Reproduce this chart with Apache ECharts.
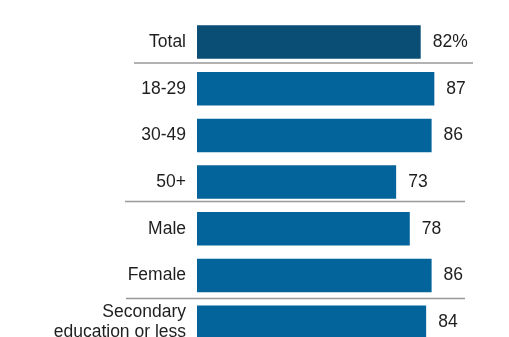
<!DOCTYPE html>
<html>
<head>
<meta charset="utf-8">
<script src="https://cdn.jsdelivr.net/npm/echarts@6/dist/echarts.min.js"></script>
<style>
html,body{margin:0;padding:0;background:#fff;}
#c{width:509px;height:337px;}
</style>
</head>
<body>
<div id="c"></div>
<script>
var categories = ['Total', '18-29', '30-49', '50+', 'Male', 'Female', 'Secondary\neducation or less'];
var values = [82, 87, 86, 73, 78, 86, 84];
var valueLabels = ['82%', '87', '86', '73', '78', '86', '84'];
var totalColor = '#0a4e75';
var barColor = '#02649b';

var chart = echarts.init(document.getElementById('c'), null, {renderer: 'canvas'});
var FONT = 'Liberation Sans, Arial, sans-serif';

var data = values.map(function (v, i) {
  return {
    value: v,
    itemStyle: {color: i === 0 ? totalColor : barColor},
    label: {formatter: valueLabels[i]}
  };
});

var option = {
  animation: false,
  backgroundColor: '#ffffff',
  grid: {left: 197, top: 18.65, width: 272.8, height: 326.9, containLabel: false, outerBoundsMode: 'none'},
  xAxis: {
    type: 'value', min: 0, max: 100, show: false
  },
  yAxis: {
    type: 'category',
    data: categories,
    inverse: true,
    axisLine: {show: false},
    axisTick: {show: false},
    splitLine: {show: false},
    axisLabel: {
      margin: 11,
      fontSize: 17.5,
      fontFamily: FONT,
      color: '#1e1e1e',
      align: 'right',
      lineHeight: 19.5
    }
  },
  series: [{
    type: 'bar',
    data: data,
    barWidth: 33.5,
    label: {
      show: true,
      position: 'right',
      distance: 12,
      fontSize: 17.5,
      fontFamily: FONT,
      color: '#1e1e1e'
    }
  }],
  graphic: [
    {type: 'line', shape: {x1: 134, y1: 63, x2: 473, y2: 63}, style: {stroke: '#999999', lineWidth: 1.5}},
    {type: 'line', shape: {x1: 125, y1: 201.5, x2: 465, y2: 201.5}, style: {stroke: '#999999', lineWidth: 1.5}},
    {type: 'line', shape: {x1: 126, y1: 298.5, x2: 465, y2: 298.5}, style: {stroke: '#999999', lineWidth: 1.5}}
  ]
};
chart.setOption(option);
</script>
</body>
</html>
